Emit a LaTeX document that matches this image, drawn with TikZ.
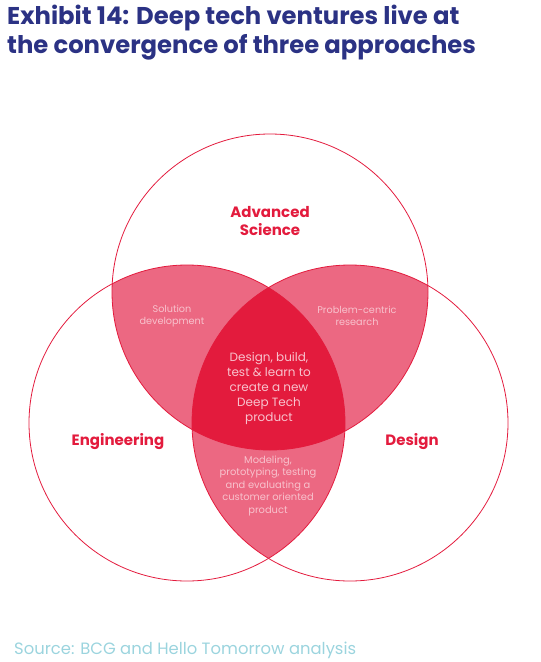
\documentclass[tikz,border=0pt]{standalone}
\usepackage{fontspec}
\setmainfont{Poppins}
\usetikzlibrary{positioning}
\definecolor{exblue}{HTML}{2B3284}
\definecolor{exred}{HTML}{E31B3D}
\definecolor{expink}{HTML}{EC6882}
\definecolor{extext}{HTML}{F8C2CD}
\definecolor{exsrc}{HTML}{9BD4DE}

\begin{document}
\begin{tikzpicture}[x=1pt, y=-1pt,
  ring/.style={draw=exred, line width=0.8pt},
  big/.style={font=\bfseries\fontsize{15}{18}\selectfont, text=exred, align=center},
  small/.style={font=\fontsize{9.7}{12}\selectfont, text=extext, align=center}]
  \useasboundingbox (0,0) rectangle (541,662);

  % Centres
  \coordinate (sci) at (270,292);
  \coordinate (eng) at (187,423);
  \coordinate (des) at (350,423);
  \def\rad{158pt}

  % Overlaps
  \begin{scope}
    \clip (sci) circle (\rad);
    \fill[expink] (eng) circle (\rad);
    \fill[expink] (des) circle (\rad);
  \end{scope}
  \begin{scope}
    \clip (eng) circle (\rad);
    \fill[expink] (des) circle (\rad);
  \end{scope}
  \begin{scope}
    \clip (sci) circle (\rad);
    \clip (eng) circle (\rad);
    \fill[exred] (des) circle (\rad);
  \end{scope}

  % Circles
  \draw[ring] (sci) circle (\rad);
  \draw[ring] (eng) circle (\rad);
  \draw[ring] (des) circle (\rad);

  % Labels
  \node[anchor=north west, inner sep=0pt, align=left, text=exblue,
        font=\bfseries\fontsize{24.3}{29}\selectfont] (title) at (7,5)
    {Exhibit 14: Deep tech ventures live at\\the convergence of three approaches};
  \node[big] (science) at (270,221) {Advanced\\Science};
  \node[big] (engineering) at (118,442) {Engineering};
  \node[big] (design) at (412,442) {Design};
  \node[small] (solution) at (172,316) {Solution\\development};
  \node[small] (problem) at (357,316) {Problem-centric\\research};
  \node[small, font=\fontsize{12}{15}\selectfont] (core) at (269,388)
    {Design, build,\\test \& learn to\\create a new\\Deep Tech\\product};
  \node[small, font=\fontsize{9.9}{12.5}\selectfont] (modeling) at (268,486)
    {Modeling,\\prototyping, testing\\and evaluating a\\customer oriented\\product};
  \node[anchor=base west, inner sep=0pt, text=exsrc, font=\fontsize{16.4}{18}\selectfont]
    (source) at (14,654) {Source: BCG and Hello Tomorrow analysis};
\end{tikzpicture}
\end{document}
